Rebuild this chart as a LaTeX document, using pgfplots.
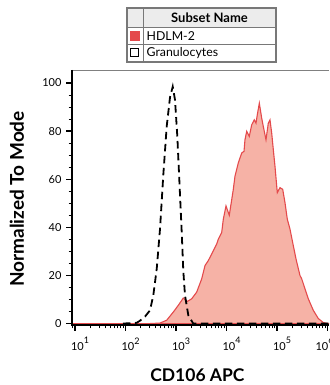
\documentclass[border=0pt]{standalone}
\usepackage{pgfplots}
\usepackage{pgfplotstable}
\pgfplotsset{compat=1.18}
\usepackage{fontspec}
\setmainfont{Lato}
\definecolor{hdfill}{RGB}{246,178,166}
\definecolor{hdline}{RGB}{228,74,76}
\definecolor{legborder}{RGB}{120,120,120}
\newcommand\tp[1]{10\raisebox{6.5pt}{\fontsize{9}{9}\selectfont #1}}

\pgfplotstableread{
L v
0.94 0
2.485 0
2.683 0.2
2.816 1.4
2.947 4.8
3.046 7.6
3.144 10.6
3.224 9.2
3.311 10.3
3.410 13.1
3.509 18.6
3.574 24.1
3.640 26.2
3.707 28.9
3.806 33.1
3.838 35.1
3.905 37.9
3.937 43.4
3.990 48.9
4.055 45.0
4.135 55.8
4.168 61.3
4.234 66.8
4.301 70.9
4.347 71.6
4.366 76.4
4.400 79.9
4.451 77.8
4.499 82.6
4.550 84.7
4.584 83.3
4.610 86.8
4.650 91.6
4.697 85.4
4.729 81.9
4.782 76.4
4.828 83.3
4.861 84.7
4.895 79.2
4.927 72.3
4.960 65.4
5.006 54.4
5.059 56.5
5.113 55.8
5.158 50.3
5.204 43.4
5.257 39.3
5.323 32.4
5.376 26.9
5.455 20.0
5.489 18.6
5.554 14.5
5.620 10.3
5.719 5.5
5.818 2.1
5.917 0.4
6.016 0
6.03 0
}\hdlm

\pgfplotstableread{
L v
1.95 0
2.222 0.3
2.287 1.2
2.386 2.9
2.485 5.5
2.550 11.7
2.618 22.7
2.683 39.3
2.749 62.0
2.816 82.0
2.881 94.0
2.935 98.5
2.980 93.0
3.026 77.8
3.065 60.0
3.113 38.0
3.144 22.0
3.178 11.7
3.244 3.4
3.342 0
6.03 0
}\gran

\begin{document}
\begin{tikzpicture}
\useasboundingbox (0pt,0pt) rectangle (329pt,385pt);
\begin{axis}[
  at={(72pt,60pt)}, anchor=south west,
  scale only axis, width=257pt, height=255pt,
  xmode=log, xmin=8.71, xmax=1071519,
  ymin=-0.6, ymax=105.4,
  axis line style={draw=none},
  clip mode=individual,
  xtick pos=bottom, ytick pos=left,
  tick align=outside,
  major tick length=0.21cm, minor tick length=0.12cm,
  tick style={black, line width=1.3pt},
  minor tick style={black, line width=0.9pt},
  xtick={10,100,1000,10000,100000},
  xticklabels={\tp{1},\tp{2},\tp{3},\tp{4},\tp{5}},
  extra x ticks={1000000},
  extra x tick labels={\tp{6}},
  extra x tick style={xticklabel style={xshift=-8pt}},
  minor xtick={9,20,30,40,50,60,70,80,90,200,300,400,500,600,700,800,900,2000,3000,4000,5000,6000,7000,8000,9000,2e4,3e4,4e4,5e4,6e4,7e4,8e4,9e4,2e5,3e5,4e5,5e5,6e5,7e5,8e5,9e5},
  xticklabel style={font=\fontsize{11}{13}\selectfont, xshift=5pt, yshift=-3pt},
  ytick={0,20,40,60,80,100},
  minor ytick={5,10,15,25,30,35,45,50,55,65,70,75,85,90,95},
  yticklabel style={font=\fontsize{11}{13}\selectfont, xshift=-1pt},
  /pgf/number format/assume math mode=true,
  xlabel={CD106 APC},
  ylabel={Normalized To Mode},
  xlabel style={font=\fontsize{17.5}{20}\selectfont\bfseries, at={(axis description cs:0.488,-0.196)}, anchor=center},
  ylabel style={font=\fontsize{19}{22}\selectfont\bfseries, at={(axis description cs:-0.214,0.494)}, anchor=center},
]
\addplot[fill=hdfill, draw=hdline, line width=1.1pt] table[x expr=10^\thisrow{L}, y=v] {\hdlm} \closedcycle;
\addplot[black, line width=1.8pt, dash pattern=on 7.5pt off 4.5pt] table[x expr=10^\thisrow{L}, y=v] {\gran};
% tick positions (axis decoration), drawn after the axis
\pgfplotsinvokeforeach{10,100,1000,10000,100000,1000000,9,20,30,40,50,60,70,80,90,200,300,400,500,600,700,800,900,2000,3000,4000,5000,6000,7000,8000,9000,20000,30000,40000,50000,60000,70000,80000,90000,200000,300000,400000,500000,600000,700000,800000,900000}{
  \coordinate (tx#1) at (axis cs:#1,-0.6);}
\pgfplotsinvokeforeach{0,5,10,15,20,25,30,35,40,45,50,55,60,65,70,75,80,85,90,95,100}{
  \coordinate (ty#1) at (axis cs:8.71,#1);}
\end{axis}
\foreach \v in {10,100,1000,10000,100000,1000000}
  \draw[black, line width=1.3pt] (tx\v) -- ++(0pt,-6pt);
\foreach \v in {9,20,30,40,50,60,70,80,90,200,300,400,500,600,700,800,900,2000,3000,4000,5000,6000,7000,8000,9000,20000,30000,40000,50000,60000,70000,80000,90000,200000,300000,400000,500000,600000,700000,800000,900000}
  \draw[black, line width=0.9pt] (tx\v) -- ++(0pt,-3.5pt);
\foreach \v in {0,20,40,60,80,100}
  \draw[black, line width=1.3pt] (ty\v) -- ++(-6pt,0pt);
\foreach \v in {5,10,15,25,30,35,45,50,55,65,70,75,85,90,95}
  \draw[black, line width=0.9pt] (ty\v) -- ++(-3.5pt,0pt);
\draw[gray, line width=0.9pt] (72pt,315pt) -- (329pt,315pt);
\draw[black, line width=1.3pt] (72pt,315pt) -- (72pt,60pt) -- (329pt,60pt);
% legend table
\fill[gray!15] (127pt,358pt) rectangle (276pt,377pt);
\draw[legborder, line width=0.8pt] (127pt,358pt) -- (276pt,358pt);
\draw[legborder, line width=0.8pt] (127pt,341pt) -- (276pt,341pt);
\draw[legborder, line width=0.8pt] (143pt,323pt) -- (143pt,377pt);
\draw[legborder, line width=1.2pt] (127pt,323pt) rectangle (276pt,377pt);
\fill[hdline] (130pt,344.3pt) rectangle (140pt,354.3pt);
\draw[black, line width=1.3pt] (130.7pt,328.5pt) rectangle (138.7pt,336.5pt);
\node[font=\fontsize{13}{15}\selectfont\bfseries, anchor=center] at (209.5pt,367.5pt) {Subset Name};
\node[font=\fontsize{12.3}{14}\selectfont, anchor=west, inner sep=0pt] at (146.5pt,349.3pt) {HDLM-2};
\node[font=\fontsize{12.3}{14}\selectfont, anchor=west, inner sep=0pt] at (146.5pt,332.3pt) {Granulocytes};
\end{tikzpicture}
\end{document}
